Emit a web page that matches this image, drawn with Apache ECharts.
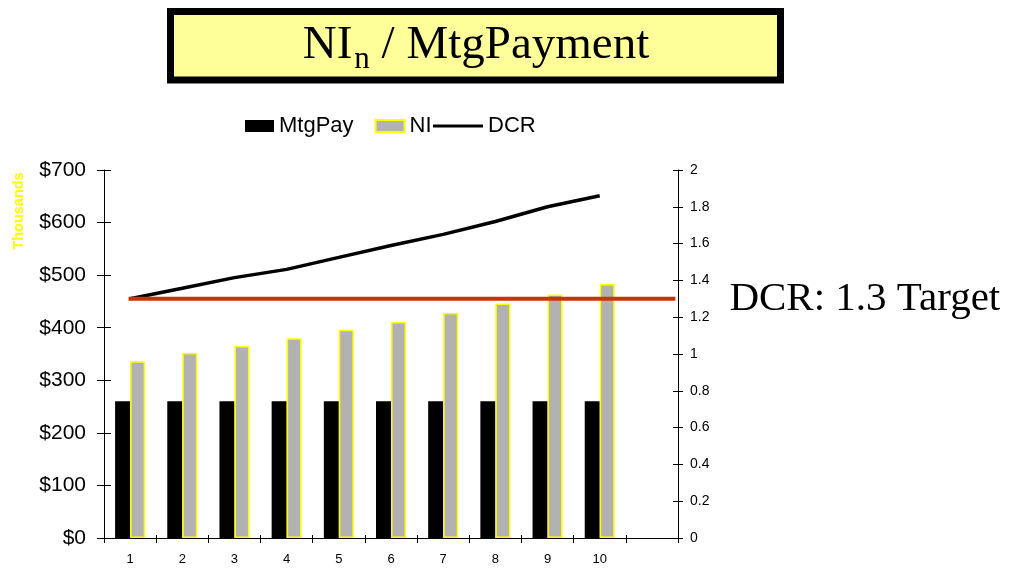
<!DOCTYPE html>
<html>
<head>
<meta charset="utf-8">
<title>NIn / MtgPayment</title>
<script src="https://cdn.jsdelivr.net/npm/echarts@6/dist/echarts.min.js"></script>
<style>
  html, body { margin: 0; padding: 0; background: #ffffff; }
  #chart { width: 1009px; height: 572px; }
</style>
</head>
<body>
<div id="chart"></div>
<script>
// Years of the projection (the trailing blank slot leaves room on the right)
const years = ['1', '2', '3', '4', '5', '6', '7', '8', '9', '10', ''];
// Annual mortgage payment, $ thousands
const mtgPay = [260, 260, 260, 260, 260, 260, 260, 260, 260, 260];
// Net income by year, $ thousands
const netIncome = [336, 352, 365, 380, 396, 411, 428, 446, 463, 483];
// Debt coverage ratio by year
const dcr = [1.30, 1.357, 1.415, 1.46, 1.525, 1.59, 1.65, 1.72, 1.80, 1.86];
// Lender's target coverage ratio and the span it is drawn over (value-axis units)
const dcrTarget = 1.3;
const targetSpan = [0.47, 10.95];
// Axis scales
const moneyScale = { min: 0, max: 700, interval: 100 };
const ratioScale = { min: 0, max: 2, interval: 0.2 };

const SANS = '"Liberation Sans", Arial, Helvetica, sans-serif';
const SERIF = '"Liberation Serif", "Times New Roman", Times, serif';

const chart = echarts.init(document.getElementById('chart'), null, { renderer: 'canvas' });

const tickStyle = { color: '#000', width: 1 };
const legendText = { fontFamily: SANS, fontSize: 22, color: '#000' };

chart.setOption({
  animation: false,
  backgroundColor: '#ffffff',
  grid: { left: 104, right: 331, top: 170, bottom: 34, containLabel: false, outerBoundsMode: 'none' },
  legend: [
    {
      data: [{ name: 'MtgPay', icon: 'rect' }, { name: 'NI', icon: 'rect' }],
      left: 245,
      top: 115,
      padding: 0,
      itemWidth: 29,
      itemHeight: 12,
      itemGap: 21,
      selectedMode: false,
      textStyle: legendText
    },
    {
      // the ratio line gets a longer swatch
      data: [{ name: 'DCR', icon: 'path://M0 0H50V3H0Z', itemStyle: { color: '#000' } }],
      left: 433,
      top: 115,
      padding: 0,
      itemWidth: 50,
      itemHeight: 12,
      selectedMode: false,
      textStyle: legendText
    }
  ],
  xAxis: [
    {
      type: 'category',
      data: years,
      position: 'bottom',
      axisLine: { show: true, lineStyle: tickStyle },
      axisTick: { show: true, inside: false, length: 5, lineStyle: tickStyle },
      axisLabel: { fontFamily: SANS, fontSize: 13, color: '#000', margin: 15, interval: 0 },
      splitLine: { show: false }
    },
    {
      type: 'value',
      min: 0,
      max: 11,
      show: false
    },
    {
      // inner half of the crossing ticks
      type: 'category',
      data: years,
      position: 'bottom',
      offset: 0,
      axisLine: { show: false },
      axisTick: { show: true, inside: true, length: 3, lineStyle: tickStyle },
      axisLabel: { show: false },
      splitLine: { show: false }
    }
  ],
  yAxis: [
    {
      type: 'value',
      position: 'left',
      min: moneyScale.min, max: moneyScale.max, interval: moneyScale.interval,
      axisLine: { show: true, lineStyle: tickStyle },
      axisTick: { show: true, inside: false, length: 7, lineStyle: tickStyle },
      axisLabel: { formatter: '${value}', fontFamily: SANS, fontSize: 21, color: '#000', margin: 18 },
      splitLine: { show: false }
    },
    {
      type: 'value',
      position: 'right',
      min: ratioScale.min, max: ratioScale.max, interval: ratioScale.interval,
      axisLine: { show: true, lineStyle: tickStyle },
      axisTick: { show: true, inside: false, length: 5, lineStyle: tickStyle },
      axisLabel: { fontFamily: SANS, fontSize: 14, color: '#000', margin: 12 },
      splitLine: { show: false }
    },
    {
      type: 'value',
      position: 'left',
      offset: 0,
      min: moneyScale.min, max: moneyScale.max, interval: moneyScale.interval,
      axisLine: { show: false },
      axisTick: { show: true, inside: true, length: 7, lineStyle: tickStyle },
      axisLabel: { show: false },
      splitLine: { show: false }
    },
    {
      type: 'value',
      position: 'right',
      offset: 0,
      min: ratioScale.min, max: ratioScale.max, interval: ratioScale.interval,
      axisLine: { show: false },
      axisTick: { show: true, inside: true, length: 5, lineStyle: tickStyle },
      axisLabel: { show: false },
      splitLine: { show: false }
    }
  ],
  series: [
    {
      name: 'MtgPay',
      type: 'bar',
      xAxisIndex: 0,
      yAxisIndex: 0,
      data: mtgPay,
      barWidth: 15,
      barGap: '0%',
      itemStyle: { color: '#000000' }
    },
    {
      name: 'NI',
      type: 'bar',
      xAxisIndex: 0,
      yAxisIndex: 0,
      data: netIncome,
      barWidth: 15,
      barGap: '0%',
      itemStyle: { color: '#B2B2B2', borderColor: '#FFFF00', borderWidth: 1.5 }
    },
    {
      name: 'DCR',
      type: 'line',
      xAxisIndex: 0,
      yAxisIndex: 1,
      data: dcr,
      symbol: 'none',
      lineStyle: { color: '#000000', width: 3.5 },
      itemStyle: { color: '#000000' },
      z: 4
    },
    {
      name: 'Target',
      type: 'line',
      xAxisIndex: 1,
      yAxisIndex: 1,
      data: targetSpan.map(x => [x, dcrTarget]),
      symbol: 'none',
      silent: true,
      lineStyle: { color: '#CC3300', width: 4 },
      itemStyle: { color: '#CC3300' },
      endLabel: {
        show: true,
        formatter: 'DCR: ' + dcrTarget + ' Target',
        fontFamily: SERIF,
        fontSize: 41,
        color: '#000',
        distance: 54
      },
      z: 5
    }
  ],
  graphic: [
    {
      type: 'rect',
      shape: { x: 170.5, y: 11.5, width: 610, height: 68.5 },
      style: { fill: '#FFFF99', stroke: '#000000', lineWidth: 7 },
      z: 10
    },
    {
      type: 'text',
      x: 476,
      y: 46,
      z: 11,
      style: {
        text: '{m|NI}{s|n}{m| / MtgPayment}',
        align: 'center',
        verticalAlign: 'middle',
        fill: '#000',
        rich: {
          m: { fontFamily: SERIF, fontSize: 47, fill: '#000', verticalAlign: 'middle' },
          s: { fontFamily: SERIF, fontSize: 31, fill: '#000', verticalAlign: 'middle', padding: [28, 0, 0, 2] }
        }
      }
    },
    {
      type: 'text',
      x: 19,
      y: 211,
      rotation: Math.PI / 2,
      z: 11,
      style: {
        text: 'Thousands',
        align: 'center',
        verticalAlign: 'middle',
        fontFamily: SANS,
        fontWeight: 'bold',
        fontSize: 14.5,
        fill: '#FFFF00'
      }
    }
  ]
});
</script>
</body>
</html>
